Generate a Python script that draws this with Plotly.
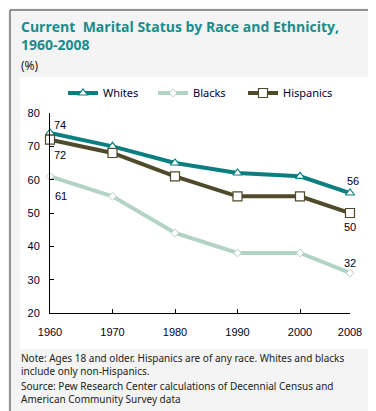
import plotly.graph_objects as go

years = [1960, 1970, 1980, 1990, 2000, 2008]
whites = [74, 70, 65, 62, 61, 56]
blacks = [61, 55, 44, 38, 38, 32]
hispanics = [72, 68, 61, 55, 55, 50]
tick_years = [1960, 1970, 1980, 1990, 2000, 2008]
y_ticks = [20, 30, 40, 50, 60, 70, 80]

W, H = 376, 411
L, R, T, B = 42, 34, 105, 106
pw, ph = W - L - R, H - T - B

def px(x):
    return (x - L) / pw

def py(y):
    return (H - B - y) / ph

c_w = "#0a7f7f"
c_b = "#b3d4c4"
c_h = "#4f4a2b"
c_title = "#1a8c8c"

fig = go.Figure()
fig.add_trace(go.Scatter(x=years, y=whites, name="Whites", mode="lines+markers", cliponaxis=False,
                         line=dict(color=c_w, width=4),
                         marker=dict(symbol="triangle-up", size=8, color="white",
                                     line=dict(color=c_w, width=1.2))))
fig.add_trace(go.Scatter(x=years, y=blacks, name="Blacks", mode="lines+markers", cliponaxis=False,
                         line=dict(color=c_b, width=4),
                         marker=dict(symbol="diamond", size=6, color="white",
                                     line=dict(color=c_b, width=1))))
fig.add_trace(go.Scatter(x=years, y=hispanics, name="Hispanics", mode="lines+markers", cliponaxis=False,
                         line=dict(color=c_h, width=4),
                         marker=dict(symbol="square", size=9, color="white",
                                     line=dict(color=c_h, width=1.2))))

shapes = [
    dict(type="rect", xref="paper", yref="paper", x0=px(2), x1=px(372), y0=py(409), y1=py(2),
         line=dict(color="#333333", width=1), fillcolor="#f4f4f4", layer="below"),
    dict(type="rect", xref="paper", yref="paper", x0=px(12), x1=px(362), y0=py(341), y1=py(69),
         line=dict(width=0), fillcolor="white", layer="below"),
]

ann = []
ann.append(dict(xref="paper", yref="paper", x=px(11), y=py(7), xanchor="left", yanchor="top",
                text="<b>Current  Marital Status by Race and Ethnicity,<br>1960-2008</b>",
                showarrow=False, align="left",
                font=dict(family="Open Sans", size=14, color=c_title)))
ann.append(dict(xref="paper", yref="paper", x=px(11), y=py(47), xanchor="left", yanchor="top",
                text="(%)", showarrow=False,
                font=dict(family="Noto Sans", size=12, color="#222222")))
ann.append(dict(xref="paper", yref="paper", x=px(11), y=py(341), xanchor="left", yanchor="top",
                text="Note: Ages 18 and older. Hispanics are of any race. Whites and blacks<br>include only non-Hispanics.",
                showarrow=False, align="left",
                font=dict(family="Noto Sans", size=10, color="#222222")))
ann.append(dict(xref="paper", yref="paper", x=px(11), y=py(369), xanchor="left", yanchor="top",
                text="Source: Pew Research Center calculations of Decennial Census and<br>American Community Survey data",
                showarrow=False, align="left",
                font=dict(family="Noto Sans", size=10, color="#222222")))

lab_font = dict(family="Liberation Sans", size=11, color="#000022")
labels = [
    (years[0], whites[0], 10, 8),
    (years[0], hispanics[0], 10, -15),
    (years[0], blacks[0], 11, -20),
    (years[-1], whites[-1], 3, 12),
    (years[-1], hispanics[-1], 0, -14),
    (years[-1], blacks[-1], 0, 10),
]
for x, y, xs, ys in labels:
    ann.append(dict(x=x, y=y, xref="x", yref="y", text=str(y), showarrow=False,
                    xshift=xs, yshift=ys, font=lab_font))

fig.update_layout(
    width=W, height=H,
    margin=dict(l=L, r=R, t=T, b=B, autoexpand=False),
    paper_bgcolor="#f4f4f4", plot_bgcolor="white",
    shapes=shapes, annotations=ann,
    showlegend=True,
    legend=dict(orientation="h", x=px(55), y=py(85), xanchor="left", yanchor="middle",
                font=dict(family="Noto Sans", size=11, color="#000033"),
                bgcolor="rgba(0,0,0,0)", itemwidth=30, tracegroupgap=0,
                entrywidth=45, entrywidthmode="pixels"),
    xaxis=dict(range=[1960, 2008], tickvals=tick_years, ticks="inside", ticklen=4,
               tickcolor="black", showline=True, linecolor="black", linewidth=1,
               showgrid=False, zeroline=False, ticklabelstandoff=9,
               tickfont=dict(family="Liberation Sans", size=11, color="#000022")),
    yaxis=dict(range=[20, 80], tickvals=y_ticks, ticks="inside", ticklen=4,
               tickcolor="black", showline=True, linecolor="black", linewidth=1,
               showgrid=False, zeroline=False, ticklabelstandoff=7,
               tickfont=dict(family="Liberation Sans", size=11, color="#000022")),
)

fig.write_html("out.html")
